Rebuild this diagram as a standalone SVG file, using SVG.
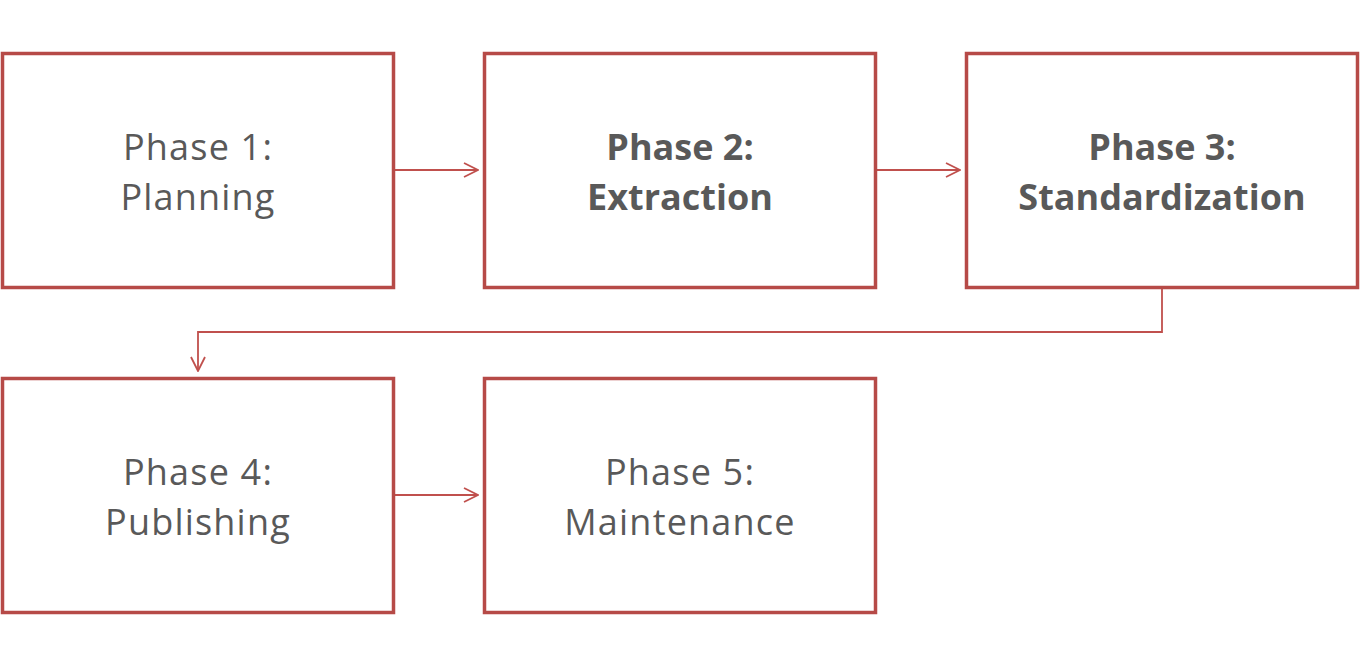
<svg xmlns="http://www.w3.org/2000/svg" width="1360" height="666" viewBox="0 0 1360 666">
<defs>
<style>
.box{fill:#fff;stroke:#B64A47;stroke-width:3.5}
.t{font-family:"Open Sans","Noto Sans","Liberation Sans",sans-serif;font-size:36px;fill:#595959;text-anchor:middle;letter-spacing:1.2px}
.b{font-weight:bold;letter-spacing:0}
.c{fill:none;stroke:#C0504D;stroke-width:1.8}
</style>
<marker id="ah" viewBox="0 0 16 16" refX="15" refY="8" markerWidth="16" markerHeight="16" markerUnits="userSpaceOnUse" orient="auto">
<path d="M1,1 L15,8 L1,15" fill="none" stroke="#C0504D" stroke-width="1.8"/>
</marker>
</defs>
<rect width="1360" height="666" fill="#fff"/>
<g id="connectors">
<line class="c" x1="394" y1="170" x2="478" y2="170" marker-end="url(#ah)"/>
<line class="c" x1="876" y1="170" x2="960" y2="170" marker-end="url(#ah)"/>
<polyline class="c" points="1162,288 1162,332 198,332 198,371" marker-end="url(#ah)"/>
<line class="c" x1="394" y1="495" x2="478" y2="495" marker-end="url(#ah)"/>
</g>
<g id="phase1">
<rect class="box" x="2.5" y="53.5" width="391" height="234"/>
<text class="t" x="198" y="160">Phase 1:</text>
<text class="t" x="198" y="210">Planning</text>
</g>
<g id="phase2">
<rect class="box" x="484.5" y="53.5" width="391" height="234"/>
<text class="t b" x="680" y="160">Phase 2:</text>
<text class="t b" x="680" y="210">Extraction</text>
</g>
<g id="phase3">
<rect class="box" x="966.5" y="53.5" width="391" height="234"/>
<text class="t b" x="1162" y="160">Phase 3:</text>
<text class="t b" x="1162" y="210">Standardization</text>
</g>
<g id="phase4">
<rect class="box" x="2.5" y="378.5" width="391" height="234"/>
<text class="t" x="198" y="485">Phase 4:</text>
<text class="t" x="198" y="535">Publishing</text>
</g>
<g id="phase5">
<rect class="box" x="484.5" y="378.5" width="391" height="234"/>
<text class="t" x="680" y="485">Phase 5:</text>
<text class="t" x="680" y="535">Maintenance</text>
</g>
</svg>
